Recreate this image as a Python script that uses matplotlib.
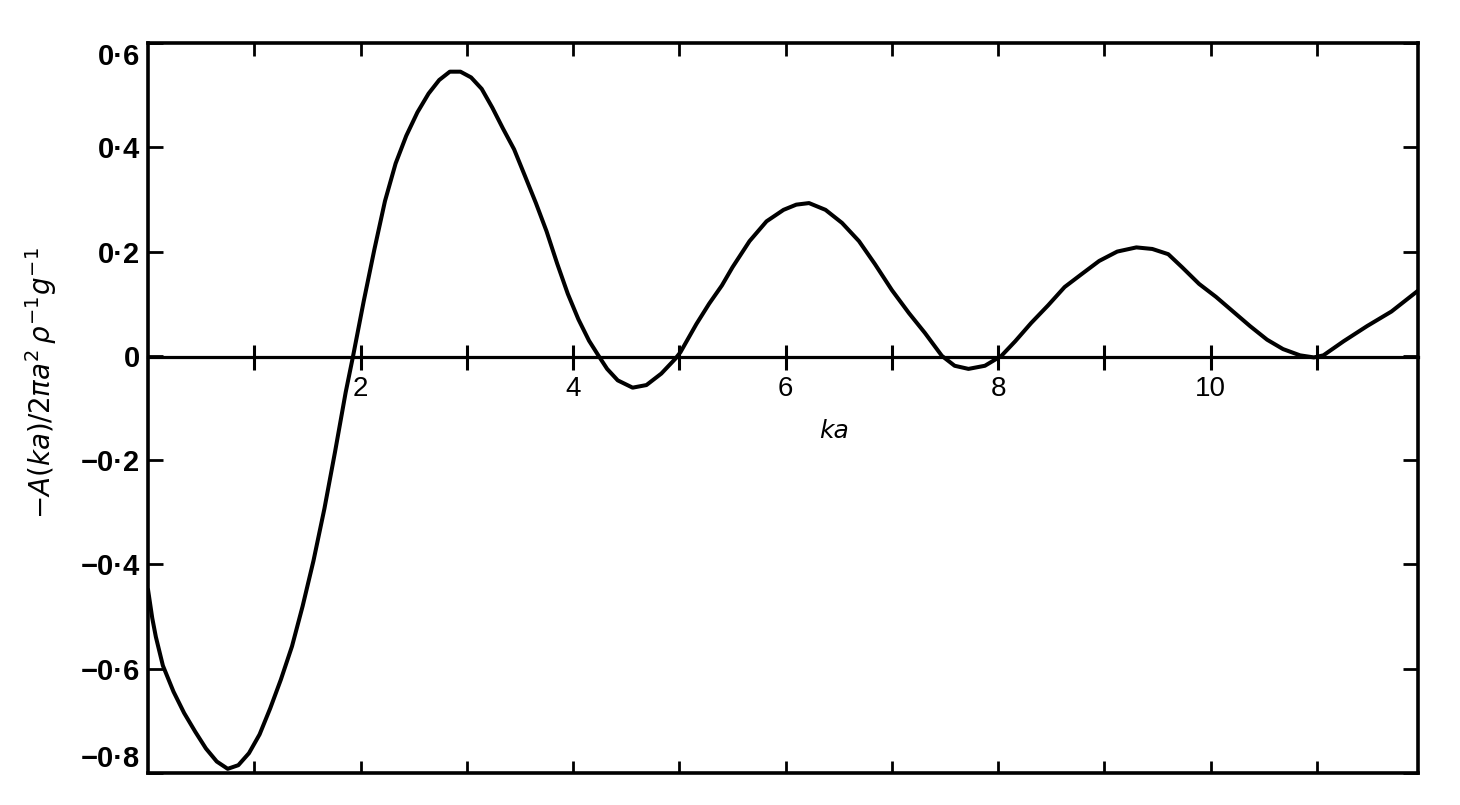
import matplotlib
matplotlib.use("Agg")
import matplotlib.pyplot as plt
import numpy as np

# ---- data ----
ka = [0.00, 0.04, 0.074, 0.14, 0.24, 0.34, 0.445, 0.545, 0.647, 0.75, 0.85,
      0.95, 1.05, 1.15, 1.25, 1.355, 1.455, 1.557, 1.66, 1.76, 1.86, 1.93,
      2.03, 2.13, 2.23, 2.33, 2.43, 2.535, 2.64, 2.74, 2.84, 2.94, 3.04, 3.14,
      3.24, 3.34, 3.445, 3.545, 3.65, 3.75, 3.85, 3.95, 4.05, 4.15, 4.24,
      4.32, 4.42, 4.56, 4.69, 4.83, 4.96, 5.01, 5.16, 5.28, 5.40, 5.50, 5.66,
      5.82, 5.98, 6.10, 6.22, 6.375, 6.53, 6.69, 6.84, 7.00, 7.16, 7.31, 7.47,
      7.59, 7.72, 7.875, 8.03, 8.16, 8.31, 8.47, 8.625, 8.78, 8.95, 9.12,
      9.30, 9.45, 9.60, 9.73, 9.89, 10.05, 10.21, 10.37, 10.53, 10.68, 10.84,
      10.97, 11.06, 11.25, 11.47, 11.70, 11.95]
A = [-0.448, -0.503, -0.539, -0.594, -0.644, -0.685, -0.721, -0.753, -0.778,
     -0.792, -0.785, -0.762, -0.726, -0.676, -0.621, -0.557, -0.480, -0.393,
     -0.293, -0.184, -0.070, 0.000, 0.105, 0.204, 0.297, 0.369, 0.422, 0.467,
     0.503, 0.529, 0.545, 0.545, 0.534, 0.512, 0.476, 0.436, 0.396, 0.346,
     0.293, 0.239, 0.177, 0.119, 0.070, 0.029, 0.000, -0.025, -0.047, -0.061,
     -0.056, -0.034, -0.006, 0.007, 0.061, 0.100, 0.135, 0.170, 0.220, 0.258,
     0.280, 0.290, 0.293, 0.280, 0.255, 0.220, 0.176, 0.126, 0.082, 0.044,
     0.000, -0.019, -0.025, -0.019, 0.000, 0.028, 0.063, 0.097, 0.132, 0.156,
     0.182, 0.200, 0.208, 0.205, 0.195, 0.170, 0.138, 0.113, 0.085, 0.057,
     0.031, 0.013, 0.001, -0.003, 0.001, 0.028, 0.057, 0.085, 0.125]

x_ticks = [1, 2, 3, 4, 5, 6, 7, 8, 9, 10, 11]
x_tick_labels = ["", "2", "", "4", "", "6", "", "8", "", "10", ""]
y_ticks = [-0.8, -0.6, -0.4, -0.2, 0.0, 0.2, 0.4, 0.6]
y_tick_labels = ["\u22120\u00b78", "\u22120\u00b76", "\u22120\u00b74", "\u22120\u00b72",
                 "0", "0\u00b72", "0\u00b74", "0\u00b76"]
x_lim = (0, 11.95)
y_lim = (-0.795, 0.60)

# ---- figure ----
fig = plt.figure(figsize=(14.6, 8.05), dpi=100)
ax = fig.add_axes([148 / 1460, 1 - 773 / 805, (1418 - 148) / 1460, (773 - 43) / 805])

ax.plot(ka, A, color="black", lw=2.9, solid_joinstyle="round", solid_capstyle="round")

ax.set_xlim(*x_lim)
ax.set_ylim(*y_lim)

for s in ax.spines.values():
    s.set_linewidth(2.6)
    s.set_color("black")

ax.set_xticks(x_ticks)
ax.set_xticklabels([])
ax.set_yticks(y_ticks)
ax.set_yticklabels(y_tick_labels, fontfamily="Liberation Sans", fontweight="bold", fontsize=21)
ax.tick_params(axis="x", which="both", direction="in", length=9, width=2.0,
               top=True, bottom=True)
ax.tick_params(axis="y", which="both", direction="in", length=11, width=2.0,
               left=True, right=True, pad=6)

labels = ax.get_yticklabels()
labels[-1].set_verticalalignment("top")
labels[0].set_verticalalignment("bottom")

# zero line with ticks and labels
frac0 = (0 - y_lim[0]) / (y_lim[1] - y_lim[0])
sec = ax.secondary_xaxis(frac0)
sec.set_alignment("bottom")
sec.set_xticks(x_ticks)
sec.set_xticklabels(x_tick_labels, fontfamily="Liberation Sans", fontsize=20)
sec.tick_params(axis="x", direction="inout", length=18, width=2.2, pad=5,
                bottom=True, top=False, labelbottom=True, labeltop=False)
for s in sec.spines.values():
    s.set_linewidth(2.3)

ax.text(6.46, -0.145, "ka", fontstyle="italic", fontsize=18, ha="center", va="center",
        fontfamily="DejaVu Sans")

ax.set_ylabel(r"$-A(ka)/2\pi a^2\,\rho^{-1}g^{-1}$", fontsize=20)
ax.yaxis.set_label_coords(-0.07, 0.534)

fig.savefig("out.png", dpi=100, facecolor="white")
